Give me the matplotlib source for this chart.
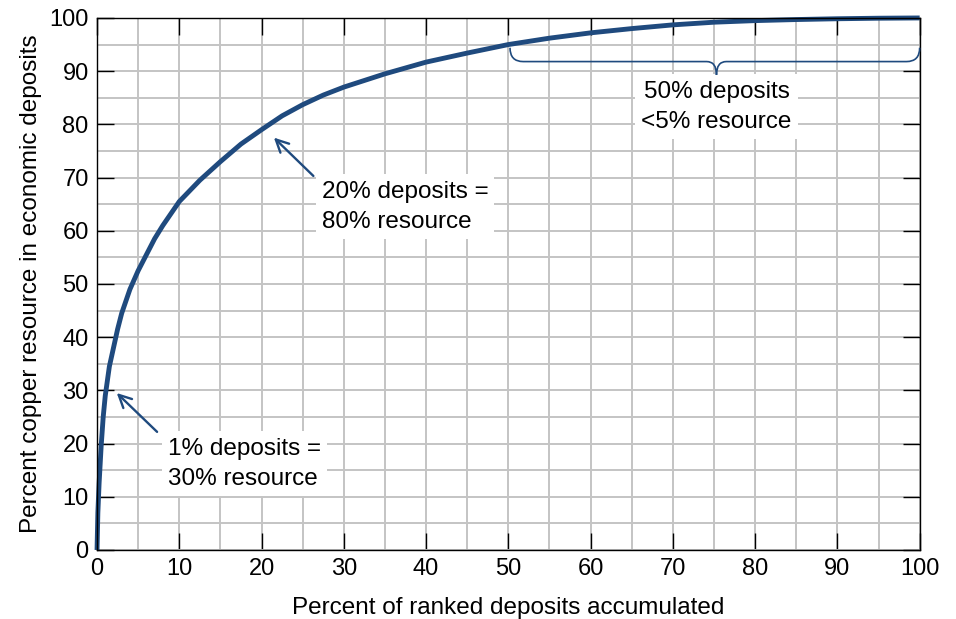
import numpy as np
import matplotlib
matplotlib.use("Agg")
import matplotlib.pyplot as plt
from matplotlib.path import Path
from matplotlib.patches import PathPatch
from matplotlib.ticker import MultipleLocator

plt.rcParams['font.family'] = ['Liberation Sans', 'DejaVu Sans']

#--- cumulative curve
pct_deposits = [0, 0.1, 0.25, 0.5, 0.75, 1, 1.5, 2, 2.5, 3, 4, 5, 6, 7, 8, 10,
                12.5, 15, 17.5, 20, 22.5, 25, 27.5, 30, 35, 40, 45, 50, 55, 60,
                65, 70, 75, 80, 85, 90, 95, 100]
pct_resource = [0, 7, 12.5, 19.5, 25, 29, 34.5, 38, 41.5, 44.5, 49, 52.5, 55.5,
                58.5, 61, 65.5, 69.5, 73, 76.3, 79, 81.6, 83.7, 85.5, 87, 89.5,
                91.7, 93.4, 95, 96.2, 97.2, 98, 98.7, 99.2, 99.5, 99.7, 99.85,
                99.95, 100]

x_ticks = list(range(0, 101, 10))
y_ticks = list(range(0, 101, 10))

note_1 = "1% deposits =\n30% resource"
note_20 = "20% deposits =\n80% resource"
note_50 = "50% deposits\n<5% resource"

line_col = '#1f4a7e'
fs = 17

fig = plt.figure(figsize=(9.56, 6.19), dpi=100)
ax = fig.add_axes([0.1015, 0.1115, 0.8605, 0.8595])

ax.plot(pct_deposits, pct_resource, color=line_col, lw=3.5,
        solid_capstyle='butt', zorder=4, clip_on=False)

ax.set_xlim(0, 100)
ax.set_ylim(0, 100)
ax.set_xticks(x_ticks)
ax.set_yticks(y_ticks)
ax.xaxis.set_minor_locator(MultipleLocator(5))
ax.yaxis.set_minor_locator(MultipleLocator(5))
ax.grid(True, which='both', color='#c4c4c4', lw=1.4, zorder=0)
ax.set_axisbelow(True)
ax.tick_params(which='major', direction='in', length=12, width=1,
               top=True, right=True, labelsize=fs, pad=6, colors='black')
ax.tick_params(which='minor', length=0)
for s in ax.spines.values():
    s.set_linewidth(1.0)
    s.set_color('black')
    s.set_zorder(5)

ax.set_xlabel("Percent of ranked deposits accumulated", fontsize=17.5, labelpad=12)
ax.set_ylabel("Percent copper resource in economic deposits", fontsize=17.5, labelpad=5)

box = dict(boxstyle='square,pad=0.25', fc='white', ec='none')
arrow = dict(arrowstyle='->,head_length=0.9,head_width=0.45', color=line_col, lw=1.7,
             shrinkA=0, shrinkB=0)

ax.text(8.6, 16.2, note_1, fontsize=17.5, ha='left', va='center',
        linespacing=1.5, bbox=box, zorder=6)
ax.annotate("", xy=(2.4, 29.5), xytext=(7.3, 22.2), arrowprops=arrow, zorder=6)

ax.text(27.3, 64.5, note_20, fontsize=17.5, ha='left', va='center',
        linespacing=1.5, bbox=box, zorder=6)
ax.annotate("", xy=(21.5, 77.5), xytext=(26.3, 70.3), arrowprops=arrow, zorder=6)

ax.text(75.3, 83.3, note_50, fontsize=17.5, ha='center', va='center',
        linespacing=1.5, bbox=box, zorder=6)

#--- curly brace over the last half of the deposits
verts = [(50.2, 94.4), (50.2, 91.8), (51.8, 91.8),
         (74.1, 91.8),
         (75.3, 91.8), (75.3, 89.3),
         (75.3, 91.8), (76.5, 91.8),
         (98.4, 91.8),
         (100, 91.8), (100, 94.4)]
codes = [Path.MOVETO, Path.CURVE3, Path.CURVE3,
         Path.LINETO,
         Path.CURVE3, Path.CURVE3,
         Path.CURVE3, Path.CURVE3,
         Path.LINETO,
         Path.CURVE3, Path.CURVE3]
ax.add_patch(PathPatch(Path(verts, codes), fc='none', ec=line_col, lw=1.2,
                       zorder=6, clip_on=False))

fig.savefig("out.png", dpi=100)
